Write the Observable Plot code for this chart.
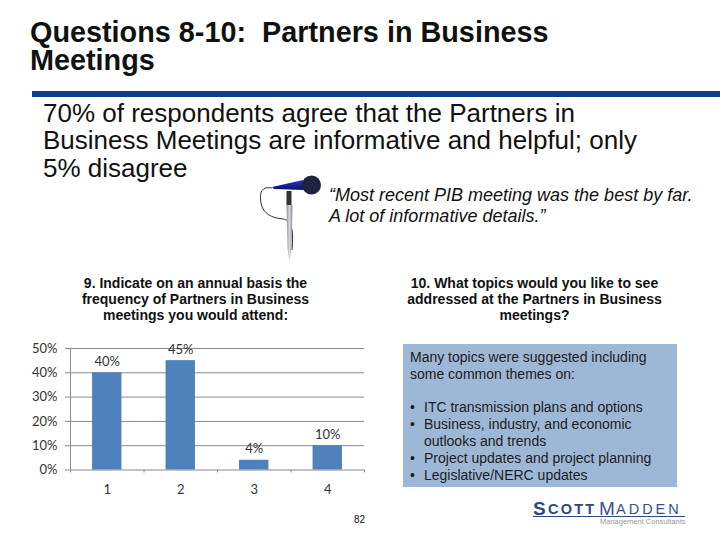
<!DOCTYPE html>
<html><head><meta charset="utf-8">
<script src="https://cdn.jsdelivr.net/npm/d3@7"></script>
<script src="https://cdn.jsdelivr.net/npm/@observablehq/plot@0.6"></script>
<style>
html,body{margin:0;padding:0;background:#fff;width:720px;height:540px;overflow:hidden}
body{position:relative;font-family:"Liberation Sans",Arial,sans-serif;color:#111}
.t{position:absolute;white-space:pre;margin:0}
#root{position:absolute;left:0;top:0;width:720px;height:540px;z-index:3}
#band{position:absolute;left:32px;top:91px;width:688px;height:6px;background:#0b3f86}
#box{position:absolute;left:403px;top:344px;width:274px;height:143px;background:#9db8d6}
#chart{position:absolute;left:0;top:330px}
#chart svg{display:block}
#mic{position:absolute;left:250px;top:170px;z-index:4}
</style></head><body>
<div id="band"></div>
<div id="box"></div>
<div id="root"></div>
<svg id="mic" width="80" height="100" viewBox="250 170 80 100">
  <defs>
    <linearGradient id="st" x1="0" x2="1" y1="0" y2="0"><stop offset="0" stop-color="#8e8e98"/><stop offset=".5" stop-color="#d8d8de"/><stop offset="1" stop-color="#85858f"/></linearGradient>
    <linearGradient id="bd" x1="0" x2="0" y1="0" y2="1"><stop offset="0" stop-color="#2a34d0"/><stop offset="1" stop-color="#0c1060"/></linearGradient>
  </defs>
  <path d="M272 188C262 186 259 192 261 203C263 214 272 218 283 219C291 220 294 228 292 250" fill="none" stroke="#333" stroke-width="1"/>
  <path d="M286.500 205H292.500L291.500 248L289.500 262L287.500 248Z" fill="url(#st)"/>
  <rect x="286.500" y="191" width="5" height="14" fill="#333"/>
  <path d="M272 187L303 180L304 190L274 189Z" fill="url(#bd)"/>
  <circle cx="311.500" cy="185" r="9.500" fill="#1d2440"/>
</svg>
<div id="chart"></div>
<script>
const titleLines = ["Questions 8-10:  Partners in Business", "Meetings"];
const headlineLines = ["70% of respondents agree that the Partners in", "Business Meetings are informative and helpful; only", "5% disagree"];
const quoteLines = ["\u201cMost recent PIB meeting was the best by far.", "A lot of informative details.\u201d"];
const q9Lines = ["9. Indicate on an annual basis the", "frequency of Partners in Business", "meetings you would attend:"];
const q10Lines = ["10. What topics would you like to see", "addressed at the Partners in Business", "meetings?"];
const introLines = ["Many topics were suggested including", "some common themes on:"];
const bulletLines = ["ITC transmission plans and options", "Business, industry, and economic", "outlooks and trends", "Project updates and project planning", "Legislative/NERC updates"];
const bulletMarks = ["\u2022", "\u2022", "", "\u2022", "\u2022"];
const categories = [1, 2, 3, 4];
const values = [0.40, 0.45, 0.04, 0.10];
const valueLabels = ["40%", "45%", "4%", "10%"];
const yTicks = [0, 0.1, 0.2, 0.3, 0.4, 0.5];
const xBoundaries = [0.5, 1.5, 2.5, 3.5, 4.5];
const table = categories.map((c, i) => ({c, v: values[i], l: valueLabels[i]}));

const root = document.getElementById("root");
function put(lines, css, tops) {
  lines.forEach((s, i) => {
    if (!s) return;
    const d = document.createElement("div");
    d.className = "t";
    d.textContent = s;
    d.style.cssText = css + ";top:" + tops(i) + "px";
    root.appendChild(d);
  });
}
put([titleLines.join("\n")], "left:30px;font-weight:bold;font-size:28.800px;line-height:28px", () => 18);
put(headlineLines, "left:43px;font-size:26px;line-height:27px", i => 99.500 + i * 27.500);
put(quoteLines, "left:329px;font-style:italic;font-size:18px;line-height:21px", i => 184.500 + i * 21.500);
put(q9Lines, "left:48px;width:295px;text-align:center;font-weight:bold;font-size:14px;line-height:16px", i => 275 + i * 16);
put(q10Lines, "left:387px;width:295px;text-align:center;font-weight:bold;font-size:14px;line-height:16px", i => 275 + i * 16);
put(introLines, "left:410px;font-size:14px;line-height:16px;color:#1c1c1c", i => 349 + i * 16.800);
put(bulletMarks, "left:410px;font-size:14px;line-height:16px;color:#1c1c1c", i => 399 + i * 17);
put(bulletLines, "left:424px;font-size:14px;line-height:16px;color:#1c1c1c", i => 399 + i * 17);
put(["82"], "left:354px;font-size:10px;line-height:12px", () => 514);
put(["S"], "left:533px;font-weight:bold;font-size:19px;line-height:15px;color:#2f4a80", () => 501);
put(["COTT"], "left:548px;font-weight:bold;font-size:14.500px;line-height:12px;letter-spacing:2.200px;color:#2f4a80", () => 503);
put(["M"], "left:599px;font-size:19px;line-height:15px;color:#3a5288", () => 501);
put(["ADDEN"], "left:616px;font-size:14.500px;line-height:12px;letter-spacing:3px;color:#3a5288", () => 503);
put(["Management Consultants"], "left:600px;font-size:7.500px;line-height:7px;color:#999", () => 518);
const rule = document.createElement("div");
rule.style.cssText = "position:absolute;left:533px;top:515.500px;width:152px;height:1px;background:#2f4a80";
root.appendChild(rule);

const chart = Plot.plot({
  width: 380, height: 175,
  marginLeft: 65, marginRight: 16, marginTop: 18, marginBottom: 35.500,
  style: {fontFamily: "Lato, 'Open Sans', sans-serif", fontSize: "13px", color: "#333", background: "transparent"},
  x: {domain: [0.5, 4.5], range: [70, 364], label: null, axis: null},
  y: {domain: [0, 0.5], label: null, axis: null},
  marks: [
    Plot.ruleY(yTicks, {stroke: "#8a8a8a", strokeWidth: 1}),
    Plot.ruleX([0.5], {y1: 0, y2: 0.5, stroke: "#8a8a8a"}),
    Plot.ruleX(xBoundaries, {y1: 0, y2: -0.012, stroke: "#8a8a8a"}),
    Plot.rectY(table, {x1: d => d.c - 0.2, x2: d => d.c + 0.2, y: "v", fill: "#4f81bd"}),
    Plot.text(table, {x: "c", y: "v", text: "l", dy: -11, fontSize: 13, fill: "#333"}),
    Plot.axisY(yTicks, {anchor: "left", tickSize: 0, tickPadding: 8, tickFormat: d3.format(".0%"), label: null, fontSize: 13, fill: "#333"}),
    Plot.axisX(categories, {tickSize: 0, tickPadding: 15, tickFormat: d => String(d), label: null, fontSize: 13, fill: "#333"})
  ]
});
document.getElementById("chart").appendChild(chart);
</script>
</body></html>
